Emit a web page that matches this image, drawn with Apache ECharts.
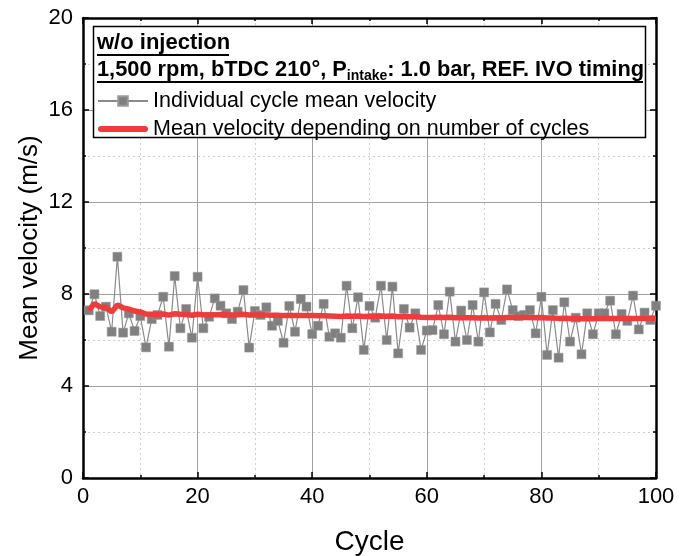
<!DOCTYPE html>
<html>
<head>
<title>mean velocity</title>
<meta charset="utf-8">
<script type="text/javascript" src="https://cdn.jsdelivr.net/npm/echarts@6/dist/echarts.min.js"></script>
</head>
<body style="margin:0">
	<div id="main" style="width: 690px; height: 556px;"></div>
</body>
<script>
	// cycle number 1..100
	var cycles = [];
	for (var i = 1; i <= 100; i++) cycles.push(i);

	// individual cycle mean velocity (m/s)
	var cycleVelocity = [
		7.29, 7.99, 7.04, 7.45, 6.36, 9.62, 6.32, 7.16, 6.39, 7.04,
		5.68, 6.91, 7.09, 7.88, 5.71, 8.78, 6.51, 7.35, 6.10, 8.75,
		6.51, 7.01, 7.81, 7.49, 7.16, 6.91, 7.23, 8.17, 5.67, 7.26,
		7.09, 7.42, 6.62, 6.83, 5.88, 7.48, 6.36, 7.78, 7.45, 6.26,
		6.62, 7.57, 6.14, 6.29, 6.10, 8.36, 6.51, 7.86, 5.57, 7.48,
		6.97, 8.36, 6.00, 8.32, 5.42, 7.35, 6.54, 7.16, 5.57, 6.41,
		6.43, 7.52, 6.25, 8.10, 5.93, 7.28, 6.00, 7.52, 5.93, 8.07,
		6.33, 7.57, 6.87, 8.20, 7.30, 7.04, 7.09, 7.30, 6.29, 7.88,
		5.35, 7.30, 5.23, 7.64, 5.93, 6.97, 5.38, 7.16, 6.25, 7.16,
		7.16, 7.71, 6.25, 7.13, 6.83, 7.93, 6.46, 7.19, 6.87, 7.49
	];

	// mean velocity depending on number of cycles (red curve)
	var runningMean = [
		7.29, 7.58, 7.44, 7.42, 7.22, 7.52, 7.40, 7.34, 7.26, 7.22,
		7.13, 7.12, 7.10, 7.13, 7.08, 7.14, 7.12, 7.11, 7.08, 7.12,
		7.10, 7.09, 7.10, 7.11, 7.10, 7.09, 7.10, 7.12, 7.09, 7.09,
		7.09, 7.09, 7.08, 7.08, 7.06, 7.07, 7.06, 7.06, 7.07, 7.06,
		7.05, 7.05, 7.04, 7.03, 7.02, 7.04, 7.03, 7.04, 7.02, 7.03,
		7.02, 7.04, 7.03, 7.04, 7.01, 7.02, 7.01, 7.01, 6.99, 6.98,
		6.98, 6.99, 6.98, 6.99, 6.97, 6.98, 6.97, 6.97, 6.96, 6.97,
		6.96, 6.97, 6.96, 6.98, 6.98, 6.98, 6.98, 6.98, 6.97, 6.98,
		6.96, 6.96, 6.94, 6.95, 6.94, 6.94, 6.92, 6.93, 6.92, 6.93,
		6.93, 6.94, 6.93, 6.93, 6.93, 6.94, 6.93, 6.93, 6.93, 6.93
	];

	var seriesNames = ['Individual cycle mean velocity', 'Mean velocity depending on number of cycles'];
	var titleLine1 = 'w/o injection';

	var FONT = 'Liberation Sans, Arial, sans-serif';

	function pairs(vals) {
		return cycles.map(function (c, i) { return [c, vals[i]]; });
	}

	var chartDom = document.getElementById('main');
	var myChart = echarts.init(chartDom);

	var boxAxis = {
		axisLine: { show: true, onZero: false, lineStyle: { color: '#000', width: 2.5 } },
		axisTick: { show: true, inside: true, length: 6, lineStyle: { color: '#000', width: 1.5 } },
		minorTick: { show: true, splitNumber: 2, length: 3, lineStyle: { color: '#000', width: 1.5 } },
		axisLabel: { show: false },
		splitLine: { show: false }
	};

	var option = {
		animation: false,
		textStyle: { fontFamily: FONT },
		grid: { left: 83, right: 34, top: 18, bottom: 78, containLabel: false, outerBoundsMode: 'none' },
		xAxis: [
			{
				type: 'value', min: 0, max: 100, interval: 20,
				name: 'Cycle', nameLocation: 'middle', nameGap: 50,
				nameTextStyle: { fontSize: 28, color: '#000', fontFamily: FONT },
				axisLine: { onZero: false, lineStyle: { color: '#000', width: 2.5 } },
				axisTick: { inside: true, length: 6, lineStyle: { color: '#000', width: 1.5 } },
				minorTick: { show: true, splitNumber: 2, length: 3, lineStyle: { color: '#000', width: 1.5 } },
				axisLabel: { fontSize: 22, color: '#000', margin: 8, fontFamily: FONT },
				splitLine: { show: true, lineStyle: { color: '#a0a0a0', width: 1 } },
				minorSplitLine: { show: true, lineStyle: { color: '#cfcfcf', width: 1, type: [2, 3] } }
			},
			Object.assign({ type: 'value', position: 'top', min: 0, max: 100, interval: 20 }, boxAxis)
		],
		yAxis: [
			{
				type: 'value', min: 0, max: 20, interval: 4,
				name: 'Mean velocity (m/s)', nameLocation: 'middle', nameGap: 40,
				nameMoveOverlap: false,
				nameTextStyle: { fontSize: 26, color: '#000', fontFamily: FONT },
				axisLine: { show: true, onZero: false, lineStyle: { color: '#000', width: 2.5 } },
				axisTick: { show: true, inside: true, length: 6, lineStyle: { color: '#000', width: 1.5 } },
				minorTick: { show: true, splitNumber: 2, length: 3, lineStyle: { color: '#000', width: 1.5 } },
				axisLabel: { fontSize: 22, color: '#000', margin: 10, fontFamily: FONT },
				splitLine: { show: true, lineStyle: { color: '#a0a0a0', width: 1 } },
				minorSplitLine: { show: true, lineStyle: { color: '#cfcfcf', width: 1, type: [2, 3] } }
			},
			Object.assign({ type: 'value', position: 'right', min: 0, max: 20, interval: 4 }, boxAxis)
		],
		legend: {
			orient: 'vertical',
			left: 97, top: 90,
			z: 20,
			padding: 0,
			itemGap: 6,
			itemWidth: 50, itemHeight: 12,
			textStyle: { fontSize: 21.5, color: '#000', fontFamily: FONT },
			data: [
				seriesNames[0],
				{ name: seriesNames[1], icon: 'path://M3,0 H47 A3,3 0 0 1 47,6 H3 A3,3 0 0 1 3,0 Z' }
			]
		},
		graphic: [
			{
				type: 'rect', z: 5,
				shape: { x: 93.5, y: 26.5, width: 552, height: 111 },
				style: { fill: '#fff', stroke: '#000', lineWidth: 1.5 }
			},
			{
				type: 'text', z: 6, left: 97, top: 32,
				style: { text: titleLine1, font: 'bold 22px ' + FONT, fill: '#000' }
			},
			{
				type: 'line', z: 6,
				shape: { x1: 97, y1: 55, x2: 229, y2: 55 },
				style: { stroke: '#000', lineWidth: 2 }
			},
			{
				type: 'text', z: 6, left: 97, top: 59,
				style: {
					text: '{b|1,500 rpm, bTDC 210°, P}{s|intake}{b|: 1.0 bar, REF. IVO timing}',
					rich: {
						b: { font: 'bold 21.8px ' + FONT, fill: '#000', lineHeight: 24, verticalAlign: 'top' },
						s: { font: 'bold 14px ' + FONT, fill: '#000', lineHeight: 24, verticalAlign: 'top', padding: [10, 0, 0, 0] }
					}
				}
			},
			{
				type: 'line', z: 6,
				shape: { x1: 97, y1: 82, x2: 643, y2: 82 },
				style: { stroke: '#000', lineWidth: 2 }
			}
		],
		series: [
			{
				name: seriesNames[0],
				type: 'line',
				data: pairs(cycleVelocity),
				symbol: 'rect',
				symbolSize: 9,
				z: 2,
				lineStyle: { color: '#8a8a8a', width: 1.2 },
				itemStyle: { color: '#808080', borderColor: '#9a9a9a', borderWidth: 0.5 }
			},
			{
				name: seriesNames[1],
				type: 'line',
				data: pairs(runningMean),
				symbol: 'none',
				showSymbol: false,
				z: 3,
				lineStyle: { color: '#ee3b3b', width: 5.5 },
				itemStyle: { color: '#ee3b3b' }
			}
		]
	};
	myChart.setOption(option);
</script>
</html>
